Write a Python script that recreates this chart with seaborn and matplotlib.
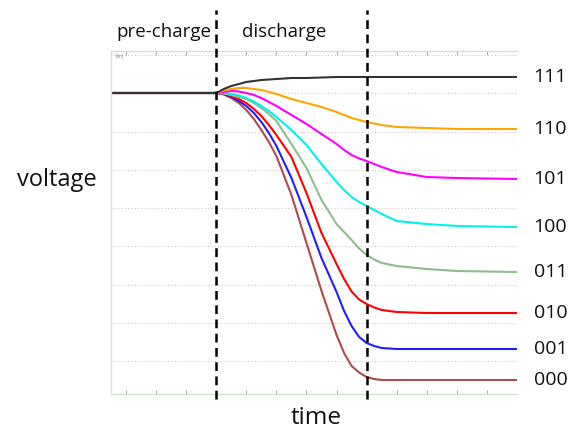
import numpy as np
import pandas as pd
import matplotlib
matplotlib.use("Agg")
import matplotlib.pyplot as plt
import seaborn as sns

# ---- data (voltage in arbitrary units) ----
time = [0.5, 4, 4.25, 4.5, 4.75, 5, 5.25, 5.5, 5.75, 6, 6.5, 7, 7.5, 8, 8.25, 8.5,
        8.75, 9, 9.25, 9.5, 10, 11, 12, 14]
v111 = [307, 307, 311, 314, 316, 318, 319, 320, 320.5, 321, 322, 322, 322.5, 323,
        323, 323, 323, 323, 323, 323, 323, 323, 323, 323]
v110 = [307, 307, 309.5, 311, 312, 312, 311, 310, 308, 306, 301, 297, 293, 288,
        285, 282, 280, 278, 276.5, 275, 273, 272, 271, 271]
v101 = [307, 307, 308, 309, 308.5, 307, 305, 302, 298, 294, 285, 276, 266, 256,
        250, 245, 241.5, 239, 236, 233, 228, 223, 222, 221]
v100 = [307, 307, 307, 306, 304.5, 302, 298.5, 294, 289, 283, 270, 255, 236, 218,
        210, 203, 198, 194, 190, 186, 179, 176, 174, 173]
v011 = [307, 307, 306.5, 305, 303, 301, 297, 292, 286, 279, 256, 232, 200, 176,
        168, 160, 151.5, 145, 140.5, 137, 134, 131, 129, 128]
v010 = [307, 307, 306.5, 304, 301, 297, 291, 284, 275, 265, 243, 207, 167, 136,
        121, 108.5, 100.5, 96, 92.5, 90, 88, 87, 87, 87]
v001 = [307, 307, 306, 303, 299, 294, 287, 278, 267, 254, 222, 183, 142, 108,
        89, 74, 63, 57, 54, 52, 51, 51, 51, 51]
v000 = [307, 307, 305.5, 302, 297, 290, 281, 270, 258, 244, 205, 157, 109, 65,
        47, 34, 27.5, 23, 21, 20, 20, 20, 20, 20]

codes = ["111", "110", "101", "100", "011", "010", "001", "000"]
series = [v111, v110, v101, v100, v011, v010, v001, v000]
colors = ["#333333", "#FFA500", "#FF00FF", "#00F0F0", "#8FBC8F", "#FF0000", "#1E1EFF", "#B04A4A"]
phase_bounds = [4, 9]
phase_labels = ["pre-charge", "discharge"]
x_ticks = list(range(1, 14))
y_grid = [39, 77.25, 115.5, 153.75, 192, 230.25, 268.5, 306.75, 345]

df = pd.DataFrame(
    [(t, v, c) for c, vals in zip(codes, series) for t, v in zip(time, vals)],
    columns=["time", "voltage", "code"],
)

sns.set_style("white")
plt.rcParams["font.family"] = ["Open Sans", "DejaVu Sans"]

fig = plt.figure(figsize=(5.69, 4.34), dpi=100)
ax = fig.add_axes([111 / 569, 40 / 434, 406 / 569, 343 / 434])

for g in y_grid:
    ax.axhline(g, color="#c8c8c8", lw=0.8, ls=(0, (1, 2)), zorder=0)

sns.lineplot(data=df, x="time", y="voltage", hue="code", hue_order=codes[::-1],
             palette=dict(zip(codes, colors)), lw=1.5, legend=False, ax=ax,
             estimator=None, sort=False)

ax.set_xlim(0.5, 14)
ax.set_ylim(6, 349)
ax.set_xticks(x_ticks)
ax.set_xticklabels([])
ax.set_yticks([])
ax.tick_params(axis="x", direction="in", length=3, width=0.6, color="#999999",
               top=True, bottom=True)
for s in ["left", "top", "bottom"]:
    ax.spines[s].set_color("#cfe3cf")
    ax.spines[s].set_linewidth(1.0)
ax.spines["right"].set_visible(False)
ax.set_xlabel("")
ax.set_ylabel("")

ax.text(0.012, 0.99, "(lin)", transform=ax.transAxes, fontsize=3.5,
        color="#777777", va="top", ha="left")

for b in phase_bounds:
    ax.axvline(b, ymin=-0.015, ymax=1.12, color="black", lw=1.8,
               ls=(0, (3.5, 2.2)), clip_on=False, zorder=5)

ax.text((0.5 + phase_bounds[0]) / 2, 368, phase_labels[0], ha="center", va="center",
        fontsize=13.5, color="#111111")
ax.text(6.25, 368, phase_labels[1], ha="center", va="center",
        fontsize=13.5, color="#111111")

for c, vals in zip(codes, series):
    ax.annotate(c, xy=(14, vals[-1]), xytext=(12, 0), textcoords="offset points",
                ha="left", va="center", fontsize=14, color="#111111",
                annotation_clip=False)

fig.text(57 / 569, 1 - 180 / 434, "voltage", ha="center", va="center", fontsize=17,
         color="#111111")
fig.text(316 / 569, 1 - 418 / 434, "time", ha="center", va="center", fontsize=17.5,
         color="#111111")

fig.savefig("out.png", dpi=100)
